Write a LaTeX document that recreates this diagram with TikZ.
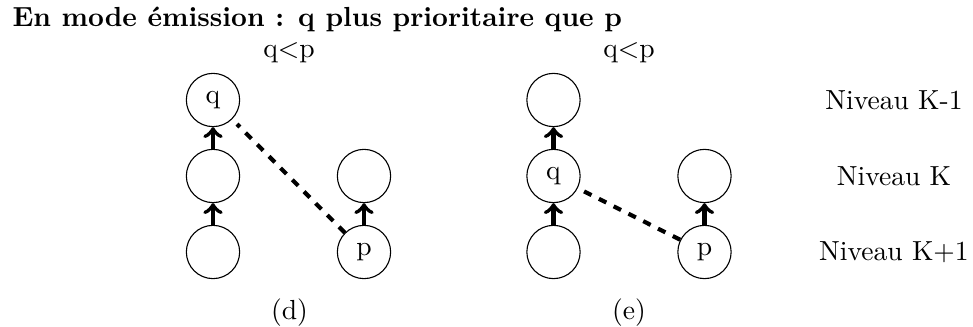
\documentclass[tikz,border=0pt]{standalone}
\usepackage{fontspec}
\begin{document}
\begin{tikzpicture}[x=0.3623pt,y=-0.3623pt,
  lvl/.style={circle,draw,line width=0.4pt,minimum size=19.3pt,inner sep=0pt},
  txt/.style={inner sep=0pt},
  up/.style={->,line width=1.5pt},
  dashline/.style={line width=1.5pt,dash pattern=on 3pt off 3pt}]
\useasboundingbox (0,0) rectangle (973,327);
\node[txt,anchor=base west,font=\bfseries] (title) at (12,27) {En mode émission : q plus prioritaire que p};
% (d)
\node[txt,anchor=base] (ltd) at (289,58) {q$<$p};
\node[lvl] (dA) at (213,100) {q};
\node[lvl] (dB) at (213,176) {};
\node[lvl] (dC) at (213,252) {};
\node[lvl] (dD) at (364,176) {};
\node[lvl] (dE) at (364,252) {p};
\draw[up] (dC) -- (dB);
\draw[up] (dB) -- (dA);
\draw[up] (dE) -- (dD);
\draw[dashline,shorten >=2.5pt] (dE) -- (dA);
\node[txt,anchor=base] (capd) at (289.5,320) {(d)};
% (e)
\node[txt,anchor=base] (lte) at (629,58) {q$<$p};
\node[lvl] (eA) at (553.5,100) {};
\node[lvl] (eB) at (553.5,176) {q};
\node[lvl] (eC) at (553.5,252) {};
\node[lvl] (eD) at (704.5,176) {};
\node[lvl] (eE) at (704.5,252) {p};
\draw[up] (eC) -- (eB);
\draw[up] (eB) -- (eA);
\draw[up] (eE) -- (eD);
\draw[dashline] (eE) -- (eB);
\node[txt,anchor=base] (cape) at (629,320) {(e)};
% levels
\node[txt] (n1) at (894,100) {Niveau K-1};
\node[txt] (n2) at (894,176) {Niveau K};
\node[txt] (n3) at (894,252) {Niveau K+1};
\end{tikzpicture}
\end{document}
